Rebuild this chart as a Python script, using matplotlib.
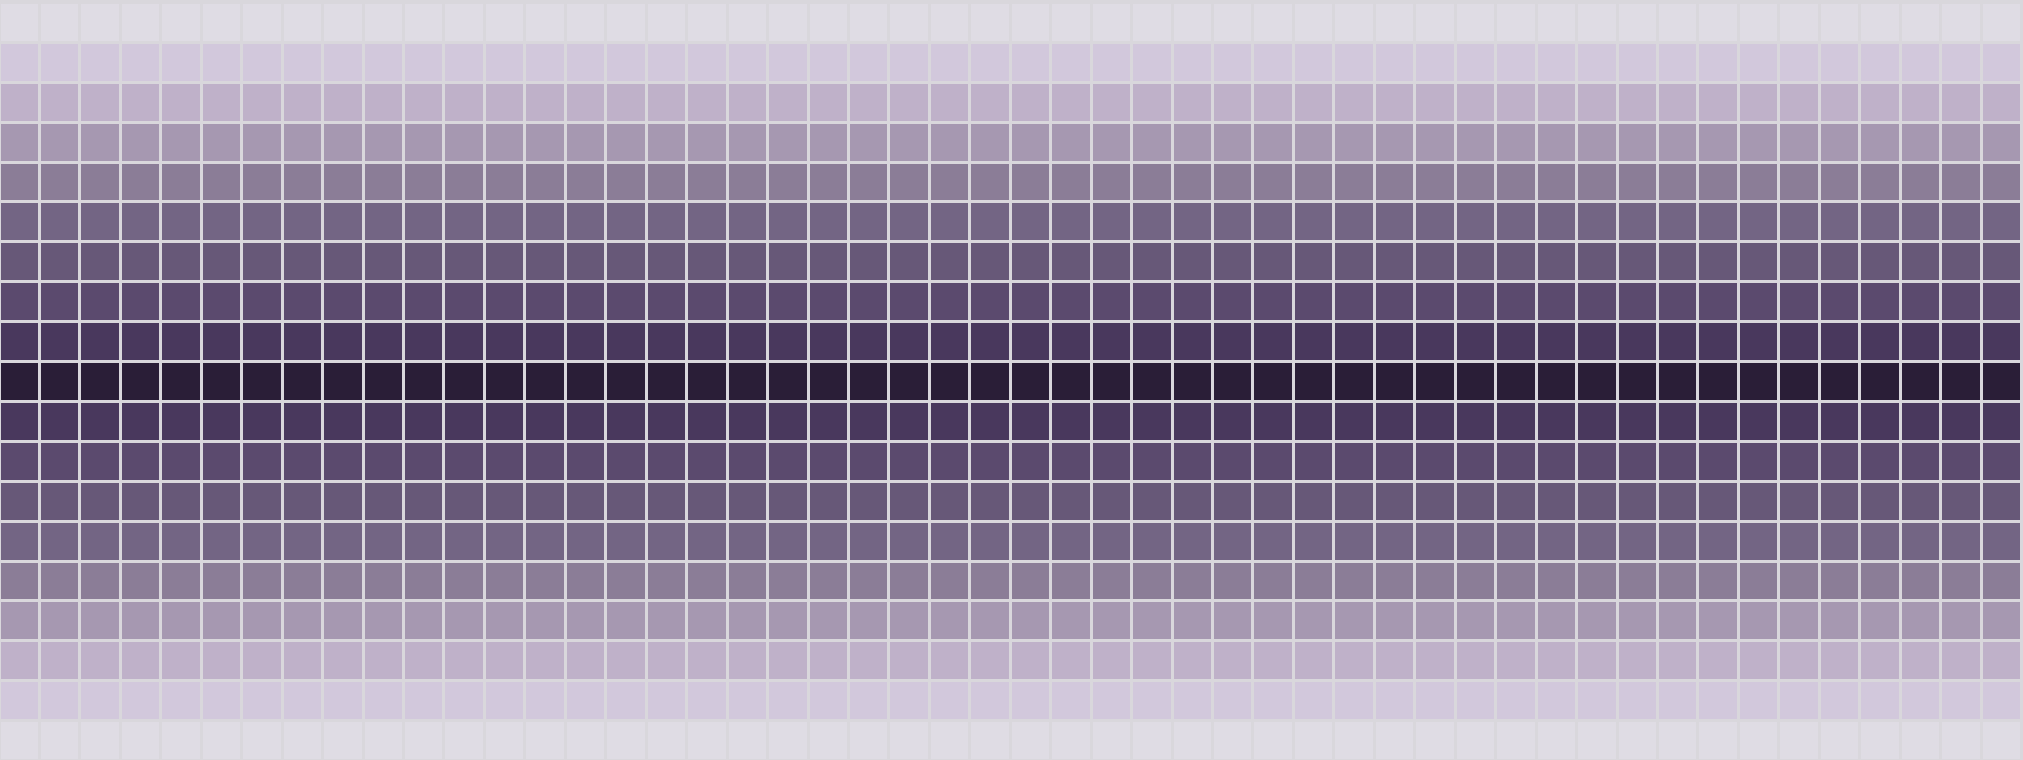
import numpy as np
import matplotlib
matplotlib.use("Agg")
import matplotlib.pyplot as plt
from matplotlib.colors import ListedColormap

# intensity level per row (top to bottom), every column is the same
row_levels = [0, 1, 2, 3, 4, 5, 6, 7, 8, 9, 8, 7, 6, 5, 4, 3, 2, 1, 0]
n_cols = 50

# palette from light to dark, one colour per level
palette = ['#dfdce4', '#d2c8dc', '#bfb1c9', '#a698b1', '#8b7d97',
           '#736584', '#675878', '#5b4a6e', '#49385d', '#2a1e37']

data = np.tile(np.array(row_levels)[:, None], (1, n_cols))
cmap = ListedColormap(palette)

grid_col = '#d9d7dc'
fig = plt.figure(figsize=(20.24, 7.6), dpi=100)
fig.patch.set_facecolor(grid_col)
# grid fills the figure, thin border on top and right
ax = fig.add_axes([-1.5 / 2024, 0, 2022.5 / 2024, 758 / 760])
ax.pcolormesh(data, cmap=cmap, vmin=-0.5, vmax=9.5,
              edgecolors=grid_col, linewidth=1.8, antialiased=False)
ax.set_xlim(0, n_cols)
ax.set_ylim(len(row_levels), 0)
ax.axis('off')

fig.savefig('out.png', dpi=100, facecolor=fig.get_facecolor())
